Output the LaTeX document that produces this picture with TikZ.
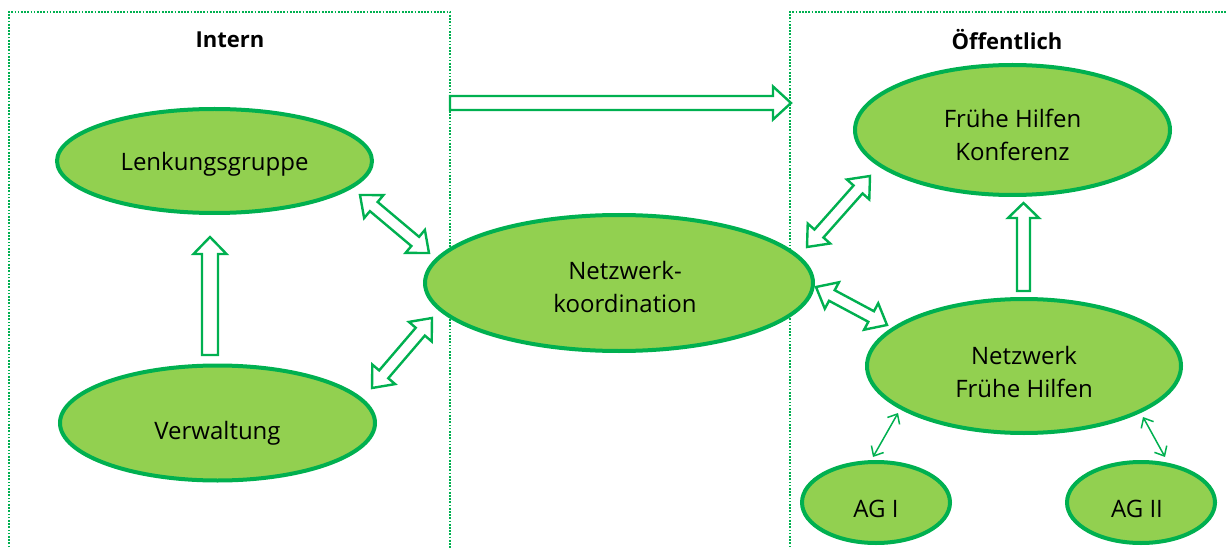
\documentclass[tikz,border=0pt]{standalone}
\usepackage{fontspec}
\setmainfont{Open Sans}
\usetikzlibrary{calc,arrows.meta,shapes.geometric}
\definecolor{gline}{HTML}{00B050}
\definecolor{gfill}{HTML}{92D050}
% double block arrow: #1 from, #2 to, #3 head length, #4 shaft half width, #5 head half width
\newcommand\dblblock[5]{%
  \coordinate (bkA) at ($(#1)!#3!(#2)$);
  \coordinate (bkB) at ($(#2)!#3!(#1)$);
  \draw[blockarrow] (#1) -- ($(bkA)!#5!90:(#2)$) -- ($(bkA)!#4!90:(#2)$)
    -- ($(bkB)!#4!-90:(#1)$) -- ($(bkB)!#5!-90:(#1)$) -- (#2)
    -- ($(bkB)!#5!90:(#1)$) -- ($(bkB)!#4!90:(#1)$)
    -- ($(bkA)!#4!-90:(#2)$) -- ($(bkA)!#5!-90:(#2)$) -- cycle;}
% single block arrow: #1 base, #2 tip
\newcommand\oneblock[5]{%
  \coordinate (bkB) at ($(#2)!#3!(#1)$);
  \draw[blockarrow] ($(#1)!#4!90:(#2)$) -- ($(bkB)!#4!-90:(#1)$)
    -- ($(bkB)!#5!-90:(#1)$) -- (#2) -- ($(bkB)!#5!90:(#1)$)
    -- ($(bkB)!#4!90:(#1)$) -- ($(#1)!#4!-90:(#2)$) -- cycle;}
\begin{document}
\begin{tikzpicture}[x=1pt,y=-1pt,
  ell/.style={ellipse, draw=gline, fill=gfill, line width=4pt, inner sep=0pt},
  txt/.style={align=center, text=black, inner sep=0pt, font=\fontsize{24}{33}\selectfont},
  title/.style={font=\bfseries\fontsize{22}{26}\selectfont},
  frame/.style={draw=gline, line width=1.7pt, dash pattern=on 1.7pt off 1.5pt},
  blockarrow/.style={draw=gline, fill=white, line width=2.4pt, line join=miter},
  thinarr/.style={draw=gline, line width=1.5pt,
    {Straight Barb[length=8pt,width=14pt]}-{Straight Barb[length=8pt,width=14pt]}}]
\useasboundingbox (0,0) rectangle (1226,548);

% frames
\draw[frame] (9,560) -- (9,12) -- (450,12) -- (450,560);
\draw[frame] (790,560) -- (790,12) -- (1240,12);

\node[title] (tint) at (230,40) {Intern};
\node[title] (toef) at (1007,40) {Öffentlich};

% block arrows
\coordinate (hA) at (450,103); \coordinate (hB) at (791,103);
\oneblock{hA}{hB}{18pt}{7pt}{16.5pt}
\coordinate (uAa) at (210,355); \coordinate (uAb) at (210,237);
\oneblock{uAa}{uAb}{17pt}{8pt}{16.5pt}
\coordinate (uBa) at (1023.5,291); \coordinate (uBb) at (1023.5,203);
\oneblock{uBa}{uBb}{15pt}{6.5pt}{15.5pt}
\coordinate (dAa) at (360,195); \coordinate (dAb) at (429,253);
\dblblock{dAa}{dAb}{18pt}{6pt}{15pt}
\coordinate (dBa) at (372,388); \coordinate (dBb) at (432,318);
\dblblock{dBa}{dBb}{18pt}{6pt}{15pt}
\coordinate (dCa) at (807,247); \coordinate (dCb) at (870,176);
\dblblock{dCa}{dCb}{18pt}{6pt}{15pt}
\coordinate (dDa) at (816,287); \coordinate (dDb) at (887,325);
\dblblock{dDa}{dDb}{18pt}{6pt}{15pt}

% ellipses
\node[ell, minimum width=315pt, minimum height=104pt] (lenk) at (214.5,161) {};
\node[ell, minimum width=315pt, minimum height=115pt] (verw) at (217.5,423) {};
\node[ell, minimum width=388pt, minimum height=136pt] (netz) at (619,283) {};
\node[ell, minimum width=315pt, minimum height=130pt] (konf) at (1012.5,130) {};
\node[ell, minimum width=314pt, minimum height=134pt] (nfh) at (1024,366) {};
\node[ell, minimum width=148pt, minimum height=81pt] (agA) at (876,502.5) {};
\node[ell, minimum width=148pt, minimum height=81pt] (agB) at (1141,502.5) {};

% texts
\node[txt] (lenkT) at ($(lenk)+(0,3)$) {Lenkungsgruppe};
\node[txt] (verwT) at ($(verw)+(0,10)$) {Verwaltung};
\node[txt] (netzT) at ($(netz)+(6,4)$) {Netzwerk-\\koordination};
\node[txt] (konfT) at ($(konf)+(0,4.5)$) {Frühe Hilfen\\Konferenz};
\node[txt] (nfhT) at ($(nfh)+(0,5.5)$) {Netzwerk\\Frühe Hilfen};
\node[txt] (agAT) at ($(agA)+(0,6)$) {AG I};
\node[txt] (agBT) at ($(agB)+(-4,6)$) {AG II};

% thin arrows
\coordinate (tAa) at (873,457); \coordinate (tAb) at (898,413);
\draw[thinarr] (tAa) -- (tAb);
\coordinate (tBa) at (1165,457); \coordinate (tBb) at (1143,417);
\draw[thinarr] (tBa) -- (tBb);
\end{tikzpicture}
\end{document}
